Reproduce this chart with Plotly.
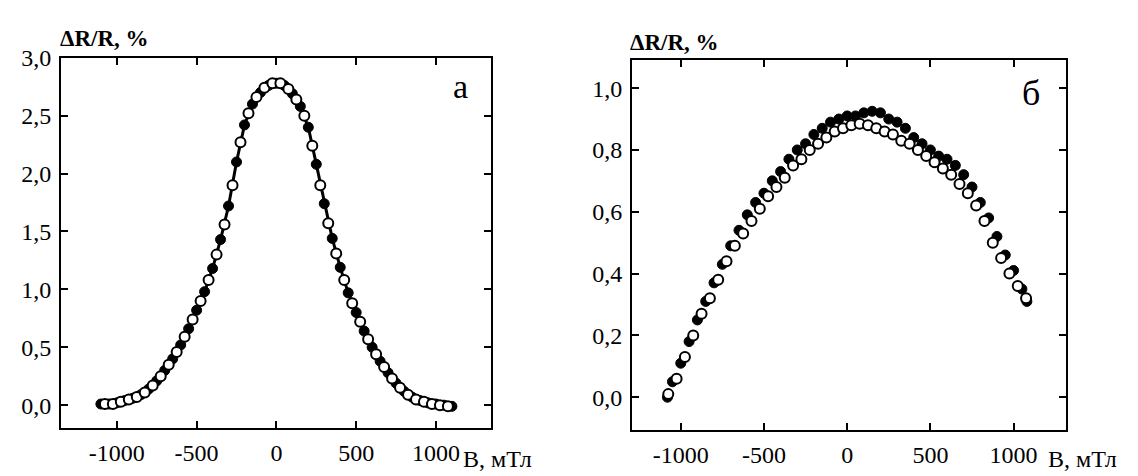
import plotly.graph_objects as go

# ---------------- data ----------------
# panel "а"
a_filled_B = [-1100, -1050, -1000, -950, -900, -850, -800, -750, -700, -650, -600, -550, -500,
              -450, -400, -350, -300, -250, -200, -150, -100, -50, 0, 50, 100, 150, 200, 250,
              300, 350, 400, 450, 500, 550, 600, 650, 700, 750, 800, 850, 900, 950, 1000, 1050, 1100]
a_filled_R = [0.01, 0.01, 0.02, 0.04, 0.06, 0.09, 0.14, 0.21, 0.30, 0.40, 0.52, 0.66, 0.82,
              0.98, 1.18, 1.43, 1.72, 2.10, 2.42, 2.60, 2.70, 2.76, 2.78, 2.76, 2.69, 2.58, 2.40, 2.08,
              1.74, 1.44, 1.19, 0.97, 0.80, 0.64, 0.50, 0.38, 0.28, 0.19, 0.12, 0.07, 0.04, 0.02, 0.01, 0.00, -0.01]
a_open_B = [-1075, -1025, -975, -925, -875, -825, -775, -725, -675, -625, -575, -525, -475, -425,
            -375, -325, -275, -225, -175, -125, -75, -25, 25, 75, 125, 175, 225, 275, 325, 375,
            425, 475, 525, 575, 625, 675, 725, 775, 825, 875, 925, 975, 1025, 1075]
a_open_R = [0.01, 0.01, 0.03, 0.05, 0.07, 0.11, 0.17, 0.25, 0.35, 0.46, 0.59, 0.74, 0.90, 1.08,
            1.30, 1.56, 1.90, 2.27, 2.52, 2.66, 2.74, 2.78, 2.78, 2.73, 2.64, 2.50, 2.24, 1.90, 1.57, 1.31,
            1.08, 0.88, 0.72, 0.57, 0.44, 0.33, 0.23, 0.15, 0.09, 0.05, 0.03, 0.01, 0.00, -0.01]

# panel "б"
b_filled_B = [-1080, -1050, -1000, -950, -900, -850, -800, -750, -700, -650, -600, -550, -500,
              -450, -400, -350, -300, -250, -200, -150, -100, -50, 0, 50, 100, 150, 200, 250,
              300, 350, 400, 450, 500, 550, 600, 650, 700, 750, 800, 850, 900, 950, 1000, 1050, 1080]
b_filled_R = [0.00, 0.05, 0.11, 0.18, 0.25, 0.31, 0.37, 0.43, 0.49, 0.54, 0.59, 0.63, 0.66,
              0.70, 0.73, 0.77, 0.80, 0.82, 0.85, 0.87, 0.89, 0.90, 0.91, 0.91, 0.92, 0.925, 0.92, 0.90,
              0.89, 0.87, 0.84, 0.82, 0.80, 0.78, 0.77, 0.75, 0.72, 0.68, 0.63, 0.58, 0.52, 0.46, 0.41, 0.35, 0.31]
b_open_B = [-1075, -1025, -975, -925, -875, -825, -775, -725, -675, -625, -575, -525, -475, -425,
            -375, -325, -275, -225, -175, -125, -75, -25, 25, 75, 125, 175, 225, 275, 325, 375,
            425, 475, 525, 575, 625, 675, 725, 775, 825, 875, 925, 975, 1025, 1075]
b_open_R = [0.01, 0.06, 0.13, 0.20, 0.27, 0.32, 0.38, 0.44, 0.49, 0.53, 0.57, 0.61, 0.65, 0.68,
            0.71, 0.75, 0.77, 0.80, 0.82, 0.84, 0.86, 0.87, 0.88, 0.885, 0.88, 0.87, 0.86, 0.85, 0.83, 0.82,
            0.80, 0.78, 0.76, 0.74, 0.72, 0.69, 0.66, 0.62, 0.57, 0.50, 0.45, 0.40, 0.36, 0.32]

x_tickvals = [-1000, -500, 0, 500, 1000]
x_ticktext = ["-1000", "-500", "0", "500", "1000"]
a_y_tickvals = [0.0, 0.5, 1.0, 1.5, 2.0, 2.5, 3.0]
a_y_ticktext = ["0,0", "0,5", "1,0", "1,5", "2,0", "2,5", "3,0"]
b_y_tickvals = [0.0, 0.2, 0.4, 0.6, 0.8, 1.0]
b_y_ticktext = ["0,0", "0,2", "0,4", "0,6", "0,8", "1,0"]
y_title = "ΔR/R, %"
x_title = "B, мТл"
panel_labels = ["а", "б"]

# ---------------- figure ----------------
W, H = 1138, 476
FONT = "Liberation Serif, Times New Roman, serif"
fig = go.Figure()

filled_marker = dict(symbol="circle", size=10, color="black", line=dict(color="black", width=1))
open_marker = dict(symbol="circle", size=10, color="white", line=dict(color="black", width=2))

fig.add_trace(go.Scatter(x=a_filled_B, y=a_filled_R, mode="lines+markers",
                         line=dict(color="black", width=3), marker=filled_marker,
                         xaxis="x", yaxis="y", showlegend=False))
fig.add_trace(go.Scatter(x=a_open_B, y=a_open_R, mode="markers", marker=open_marker,
                         xaxis="x", yaxis="y", showlegend=False))
fig.add_trace(go.Scatter(x=b_filled_B, y=b_filled_R, mode="markers", marker=filled_marker,
                         xaxis="x2", yaxis="y2", showlegend=False))
fig.add_trace(go.Scatter(x=b_open_B, y=b_open_R, mode="markers", marker=open_marker,
                         xaxis="x2", yaxis="y2", showlegend=False))

def px_x(p):
    return p / W

def px_y(p):
    return 1 - p / H

common_axis = dict(showline=True, linecolor="black", linewidth=2, mirror="ticks",
                   ticks="inside", ticklen=7, tickwidth=2, tickcolor="black",
                   showgrid=False, zeroline=False,
                   tickfont=dict(family=FONT, size=24, color="black"))

fig.update_layout(
    width=W, height=H,
    paper_bgcolor="white", plot_bgcolor="white",
    margin=dict(l=0, r=0, t=0, b=0),
    showlegend=False,
    xaxis=dict(domain=[px_x(61), px_x(491)], range=[-1350, 1345], anchor="y",
               tickvals=x_tickvals, ticktext=x_ticktext, ticklabelstandoff=2, **common_axis),
    yaxis=dict(domain=[px_y(427), px_y(46)], range=[-0.2, 3.0], anchor="x",
               tickvals=a_y_tickvals, ticktext=a_y_ticktext, ticklabelstandoff=3, **common_axis),
    xaxis2=dict(domain=[px_x(632), px_x(1066)], range=[-1293, 1315], anchor="y2",
                tickvals=x_tickvals, ticktext=x_ticktext, ticklabelstandoff=2, **common_axis),
    yaxis2=dict(domain=[px_y(429), px_y(48)], range=[-0.107, 1.092], anchor="x2",
                tickvals=b_y_tickvals, ticktext=b_y_ticktext, ticklabelstandoff=3, **common_axis),
)

ann_font = dict(family=FONT, size=24, color="black")
fig.add_annotation(x=px_x(461), y=px_y(459), xref="paper", yref="paper", text=x_title,
                   showarrow=False, xanchor="left", yanchor="middle", font=ann_font)
fig.add_annotation(x=px_x(1046), y=px_y(459), xref="paper", yref="paper", text=x_title,
                   showarrow=False, xanchor="left", yanchor="middle", font=ann_font)
fig.add_annotation(x=px_x(58), y=px_y(26), xref="paper", yref="paper", text="<b>" + y_title + "</b>",
                   showarrow=False, xanchor="left", yanchor="middle",
                   font=dict(family=FONT, size=23, color="black"))
fig.add_annotation(x=px_x(628), y=px_y(30), xref="paper", yref="paper", text="<b>" + y_title + "</b>",
                   showarrow=False, xanchor="left", yanchor="middle",
                   font=dict(family=FONT, size=23, color="black"))
fig.add_annotation(x=px_x(460), y=px_y(76), xref="paper", yref="paper", text=panel_labels[0],
                   showarrow=False, xanchor="center", yanchor="middle",
                   font=dict(family=FONT, size=34, color="black"))
fig.add_annotation(x=px_x(1031), y=px_y(82), xref="paper", yref="paper", text=panel_labels[1],
                   showarrow=False, xanchor="center", yanchor="middle",
                   font=dict(family=FONT, size=36, color="black"))

fig.write_html("out.html", config={"displayModeBar": False},
               post_script="document.body.style.margin='0';document.body.style.overflow='hidden';")
